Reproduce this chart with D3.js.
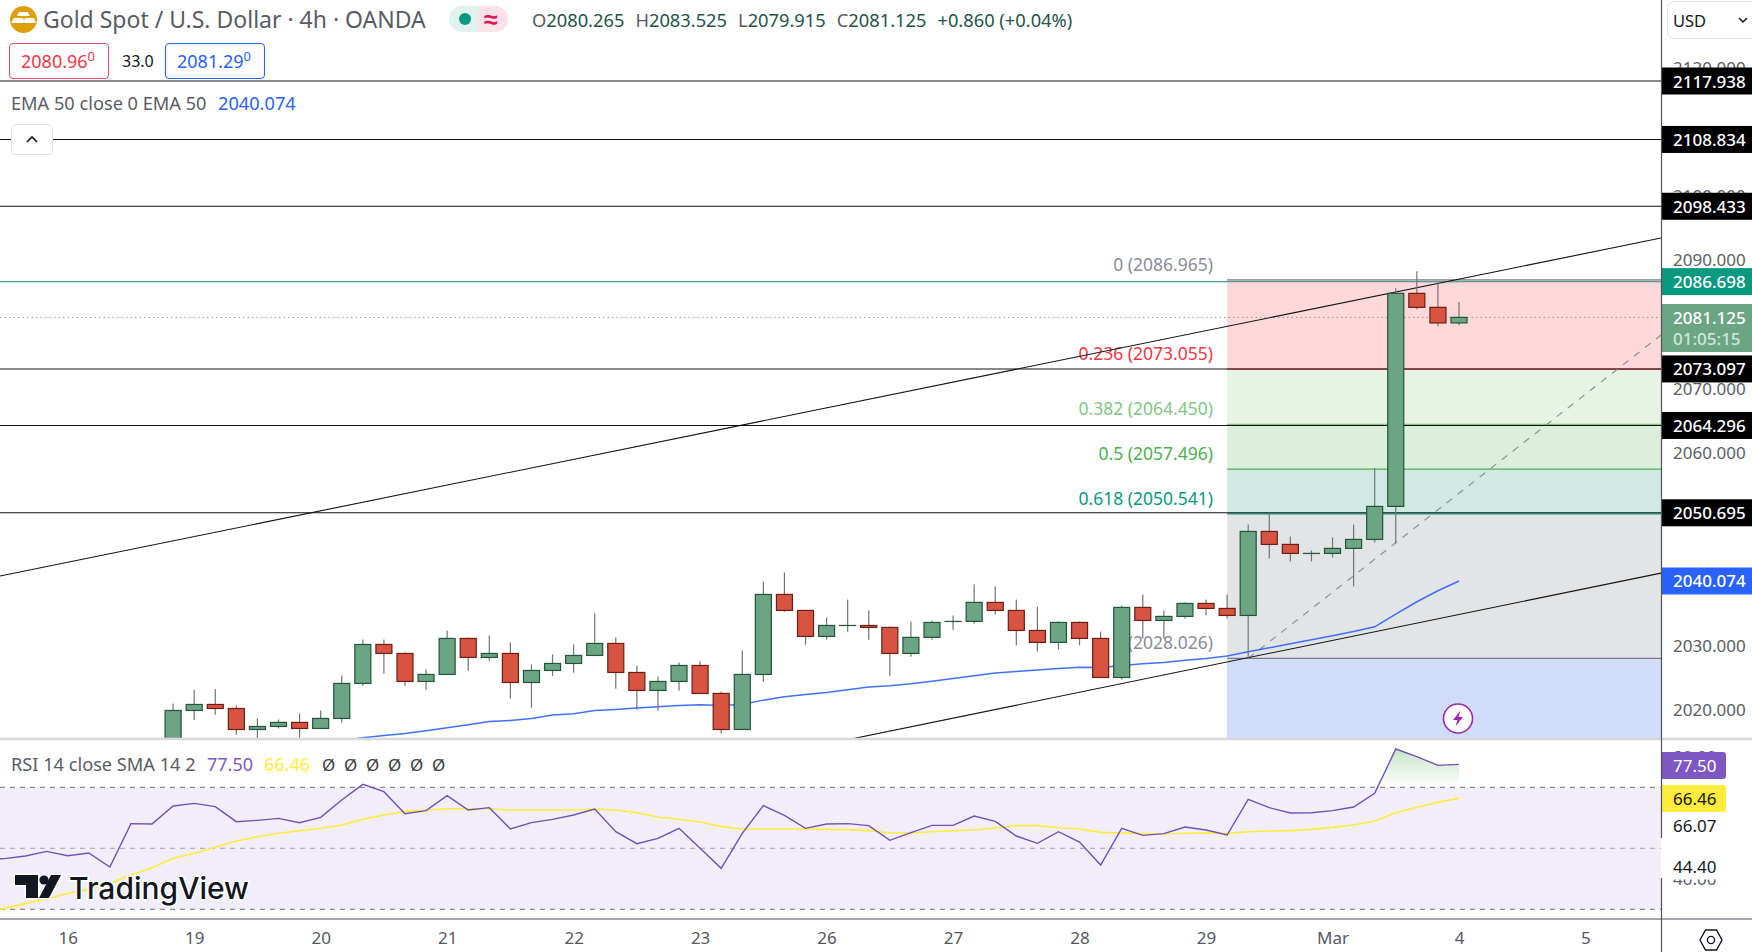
<!DOCTYPE html>
<html><head><meta charset="utf-8">
<script src="https://cdn.jsdelivr.net/npm/d3@7/dist/d3.min.js"></script>
<style>
html,body{margin:0;padding:0;background:#fff;overflow:hidden}
svg{display:block}
text{font-family:"Noto Sans",sans-serif}
</style></head><body>
<svg id="c" width="1752" height="952"></svg>
<script>
// ---------- data ----------
const opens=[2015,2019.91,2020.85,2020.22,2016.95,2017.42,2018.05,2017.11,2018.67,2024.12,2030.19,2028.79,2024.43,2025.52,2031.13,2028.17,2028.79,2024.27,2026.14,2027.23,2028.48,2030.35,2025.83,2023.03,2024.43,2026.92,2022.56,2016.95,2025.52,2037.98,2035.49,2031.44,2033.15,2033.15,2032.84,2028.79,2031.29,2033.78,2033.78,2036.74,2035.49,2032.37,2030.51,2033.62,2031.13,2025.05,2035.96,2033.93,2034.56,2036.58,2035.80,2034.71,2047.79,2045.77,2044.37,2044.37,2045.15,2046.55,2051.69,2084.87,2082.69,2080.265];
const highs=[2021.00,2023.08,2023.24,2020.69,2018.67,2018.51,2019.45,2019.91,2025.37,2030.97,2030.97,2028.95,2026.30,2032.37,2031.29,2031.60,2030.51,2027.08,2028.64,2030.19,2035.02,2031.29,2026.92,2025.21,2027.39,2027.54,2022.87,2029.26,2040.01,2041.41,2035.49,2034.40,2037.20,2035.49,2033.00,2033.78,2033.93,2034.71,2039.54,2039.23,2037.20,2036.11,2033.78,2033.78,2032.22,2036.27,2037.98,2035.49,2036.74,2037.20,2037.98,2048.88,2050.70,2047.01,2044.83,2046.86,2048.88,2057.66,2085.65,2088.30,2086.58,2083.525];
const lows=[2014.5,2018.46,2019.24,2016.12,2015.55,2017.11,2015.55,2017.11,2018.05,2023.76,2025.62,2023.76,2023.13,2025.52,2026.09,2027.65,2021.73,2020.33,2025.31,2025.78,2028.48,2023.29,2020.02,2019.86,2022.98,2022.56,2016.33,2016.95,2024.38,2035.28,2030.14,2030.92,2032.17,2030.92,2025.31,2028.27,2030.92,2032.48,2033.47,2034.87,2030.04,2029.10,2029.41,2030.04,2025.05,2024.74,2031.13,2031.13,2034.24,2034.71,2034.24,2028.03,2043.59,2043.12,2043.12,2043.74,2039.23,2046.08,2045.92,2082.38,2079.73,2079.915];
const closes=[2019.91,2020.85,2020.22,2016.95,2017.42,2018.05,2017.11,2018.67,2024.12,2030.19,2028.79,2024.43,2025.52,2031.13,2028.17,2028.79,2024.27,2026.14,2027.23,2028.48,2030.35,2025.83,2023.03,2024.43,2026.92,2022.56,2016.95,2025.52,2037.98,2035.49,2031.44,2033.15,2033.15,2032.84,2028.79,2031.29,2033.62,2033.78,2036.74,2035.49,2032.37,2030.51,2033.62,2031.13,2025.05,2035.96,2033.93,2034.56,2036.58,2035.80,2034.71,2047.79,2045.77,2044.37,2044.37,2045.15,2046.55,2051.69,2084.87,2082.69,2080.265,2081.125];

const emaStart=8;
const ema=[2015.24,2015.66,2016.02,2016.33,2016.75,2017.21,2017.68,2018.20,2018.36,2018.67,2019.19,2019.39,2019.91,2020.07,2020.28,2020.48,2020.69,2020.80,2020.69,2020.85,2021.52,2022.04,2022.41,2022.72,2023.13,2023.55,2023.76,2024.07,2024.48,2024.90,2025.31,2025.73,2025.99,2026.20,2026.46,2026.66,2026.61,2026.92,2027.18,2027.39,2027.75,2028.01,2028.38,2029.05,2029.67,2030.30,2030.92,2031.54,2032.22,2032.94,2034.92,2036.84,2038.55,2040.074];

const rsiStart=-9;
const rsi=[46.4,46.60,47.47,49.00,47.58,48.46,43.87,58.08,57.97,63.87,64.74,63.65,58.73,59.17,59.82,58.40,60.15,65.84,70.97,68.57,61.35,62.34,67.26,62.56,63.32,56.33,58.40,59.50,60.92,62.88,55.45,51.52,53.27,56.55,49.99,43.43,54.91,63.98,60.81,56.55,57.97,58.08,57.42,52.61,55.12,57.53,57.53,60.59,58.84,54.03,51.63,55.45,52.06,44.52,56.55,54.25,54.80,56.98,56.00,54.36,66.05,63.32,61.57,61.68,62.34,63.54,68.02,82.56,80.04,77.20,77.50];
const rsiSma=[28.67,30.31,31.95,33.37,35.23,36.54,38.51,41.24,43.65,46.71,48.35,50.32,52.39,53.81,54.91,55.78,56.55,57.64,59.50,60.92,62.12,62.56,62.99,62.99,62.99,62.56,62.56,62.56,62.56,62.88,62.56,61.68,60.26,59.50,58.62,57.20,56.33,56.33,56.33,56.33,56.22,56.11,55.78,55.02,55.02,55.45,55.78,56.00,56.66,57.42,57.42,56.76,56.33,55.23,55.02,54.80,54.69,54.91,55.02,54.91,55.45,55.67,55.78,56.22,56.87,57.64,58.95,61.68,63.43,65.07,66.46];

const hLevels=[2117.938,2108.834,2098.433,2073.097,2064.296,2050.695];
const tealLevel=2086.698;
const lastPrice=2081.125;
const emaLast=2040.074;

const fibPrices=[2086.965,2073.055,2064.450,2057.496,2050.541,2028.026,2010];
const fibFills=["#fdd8db","#e7f4e5","#dcefdc","#d0eae3","#e2e4e6","#cfddfb"];
const fibLineColors=["#787b86","#f23645","#81c784","#4caf50","#089981","#787b86"];
const fibNames=["0 (2086.965)","0.236 (2073.055)","0.382 (2064.450)","0.5 (2057.496)","0.618 (2050.541)","1 (2028.026)"];
const fibStartIndex=50;

const upperTrendIdx=[-8.21,70.58], upperTrendPrice=[2040.84,2093.48];
const lowerTrendIdx=[32.2,70.58], lowerTrendPrice=[2015.49,2041.30];
const fibDiagIdx=[51,70.58], fibDiagPrice=[2028.026,2078.37];

const priceTicks=[2020,2030,2040,2050,2060,2070,2080,2090,2100,2110,2120];
const rsiTicks=[80,60,40];
const rsiBands=[70,50,30];
const dayIdx=[-5,1,7,13,19,25,31,37,43,49,55,61,67];
const dayLabels=["16","19","20","21","22","23","26","27","28","29","Mar","4","5"];

// ---------- scales ----------
const W=1752,H=952,AX=1661,PB=738,RT=740,RB=919;
const x=d3.scaleLinear().domain([0,61]).range([173.1,1459]);
const y=d3.scaleLinear().domain([2020,2117.938]).range([709.9,81]);
const ry=d3.scaleLinear().domain([30,70]).range([909.3,787.3]);
const svg=d3.select("#c");
const defs=svg.append("defs");
defs.append("clipPath").attr("id","main").append("rect").attr("width",AX).attr("height",PB);
defs.append("clipPath").attr("id","over").append("rect").attr("width",AX).attr("y",RT).attr("height",ry(70)-RT);
const gr=defs.append("linearGradient").attr("id","ob").attr("gradientUnits","userSpaceOnUse")
  .attr("x1",0).attr("x2",0).attr("y1",ry(82.56)).attr("y2",ry(70));
gr.append("stop").attr("offset",0).attr("stop-color","#4caf50").attr("stop-opacity",.32);
gr.append("stop").attr("offset",1).attr("stop-color","#4caf50").attr("stop-opacity",0);

svg.append("rect").attr("width",W).attr("height",H).attr("fill","#fff");
const main=svg.append("g").attr("clip-path","url(#main)");

// Fib bands
const fx0=x(fibStartIndex);
main.selectAll("rect.fib").data(fibFills).join("rect").attr("class","fib")
  .attr("x",fx0).attr("width",AX-fx0).attr("y",(d,i)=>y(fibPrices[i])).attr("height",(d,i)=>y(fibPrices[i+1])-y(fibPrices[i]))
  .attr("fill",d=>d);
main.selectAll("line.fibl").data(fibLineColors).join("line").attr("class","fibl")
  .attr("x1",fx0).attr("x2",AX).attr("y1",(d,i)=>y(fibPrices[i])).attr("y2",(d,i)=>y(fibPrices[i]))
  .attr("stroke",d=>d).attr("stroke-width",1.2);
main.selectAll("text.fibt").data(fibNames).join("text").attr("class","fibt")
  .attr("x",1213).attr("y",(d,i)=>y(fibPrices[i])-16).attr("text-anchor","end").attr("dominant-baseline","central")
  .attr("font-size",17.5).attr("fill",(d,i)=>i==0||i==5?"#8a8d97":fibLineColors[i]).text(d=>d);

// Horizontal levels
main.selectAll("line.h").data(hLevels).join("line").attr("class","h")
  .attr("x1",0).attr("x2",AX).attr("y1",d=>y(d)).attr("y2",d=>y(d)).attr("stroke","#111").attr("stroke-width",1.1);
main.append("line").attr("x1",0).attr("x2",AX).attr("y1",y(tealLevel)).attr("y2",y(tealLevel)).attr("stroke","#4f9d94").attr("stroke-width",1.1);
main.append("line").attr("x1",0).attr("x2",AX).attr("y1",y(lastPrice)).attr("y2",y(lastPrice)).attr("stroke","#8a9a90").attr("stroke-width",1).attr("stroke-dasharray","1.5 3");

// Trend lines
const tl=(a,b)=>[[x(a[0]),y(b[0])],[x(a[1]),y(b[1])]];
const ln=d3.line();
main.append("path").attr("d",ln(tl(fibDiagIdx,fibDiagPrice))).attr("fill","none").attr("stroke","#8d9096").attr("stroke-width",1.2).attr("stroke-dasharray","7 7");
main.append("path").attr("d",ln(tl(upperTrendIdx,upperTrendPrice))).attr("fill","none").attr("stroke","#131313").attr("stroke-width",1.1);
main.append("path").attr("d",ln(tl(lowerTrendIdx,lowerTrendPrice))).attr("fill","none").attr("stroke","#131313").attr("stroke-width",1.1);

// EMA
main.append("path").datum(ema).attr("fill","none").attr("stroke","#2962ff").attr("stroke-width",1.5).attr("opacity",.9)
  .attr("d",d3.line().x((d,i)=>x(i+emaStart)).y(d=>y(d)));

// Candles
const idx=d3.range(opens.length);
main.selectAll("line.w").data(idx).join("line").attr("class","w")
  .attr("x1",i=>x(i)).attr("x2",i=>x(i)).attr("y1",i=>y(highs[i])).attr("y2",i=>y(lows[i]))
  .attr("stroke","#737375").attr("stroke-width",1.2);
main.selectAll("rect.b").data(idx).join("rect").attr("class","b")
  .attr("x",i=>x(i)-8).attr("width",16)
  .attr("y",i=>y(Math.max(opens[i],closes[i]))).attr("height",i=>Math.max(0.05,Math.abs(y(opens[i])-y(closes[i]))))
  .attr("fill",i=>closes[i]>=opens[i]?"#6ba583":"#d75442")
  .attr("stroke",i=>closes[i]>=opens[i]?"#225437":"#6b1e11").attr("stroke-width",1.2);

// Lightning icon
const bolt=svg.append("g").attr("transform",`translate(${x(61)-1},718.5)`);
bolt.append("circle").attr("r",14.5).attr("fill","#fff").attr("stroke","#9c27b0").attr("stroke-width",1.6);
bolt.append("path").attr("d","M2.5 -8 L-5 1.5 H-0.5 L-2.5 8 L5 -1.5 H0.5 Z").attr("fill","#9c27b0");

// RSI pane
svg.append("rect").attr("x",0).attr("width",AX).attr("y",ry(70)).attr("height",ry(30)-ry(70)).attr("fill","#f1eef9");
svg.selectAll("line.band").data(rsiBands).join("line").attr("class","band")
  .attr("x1",0).attr("x2",AX).attr("y1",d=>ry(d)).attr("y2",d=>ry(d))
  .attr("stroke",d=>d==50?"#a5a2ad":"#6f7079").attr("stroke-width",1).attr("stroke-dasharray","5 5");
const rIdx=d3.range(rsi.length);
svg.append("path").datum(rIdx.filter(i=>i+rsiStart>=57)).attr("clip-path","url(#over)")
  .attr("fill","url(#ob)")
  .attr("d",d3.area().x(i=>x(i+rsiStart)).y0(ry(70)).y1(i=>ry(rsi[i])));
svg.append("path").datum(rsiSma).attr("fill","none").attr("stroke","#ffeb3b").attr("stroke-width",1.6)
  .attr("d",d3.line().x((d,i)=>x(i+rsiStart)).y(d=>ry(d)));
svg.append("path").datum(rsi).attr("fill","none").attr("stroke","#7151b8").attr("stroke-width",1.4)
  .attr("d",d3.line().x((d,i)=>x(i+rsiStart)).y(d=>ry(d)));

// Axis panel
svg.append("rect").attr("x",AX).attr("width",W-AX).attr("height",H).attr("fill","#fff");
const yAxis=d3.axisRight(y).tickValues(priceTicks).tickSize(0).tickPadding(12).tickFormat(d3.format(".3f"));
const gy=svg.append("g").attr("transform",`translate(${AX},0)`).call(yAxis);
gy.select(".domain").remove();
gy.selectAll("text").attr("font-size",17).attr("fill","#5b5d66").style("font-family",'"Noto Sans"');
const rAxis=d3.axisRight(ry).tickValues(rsiTicks).tickSize(0).tickPadding(12).tickFormat(d3.format(".2f"));
const gr2=svg.append("g").attr("transform",`translate(${AX},0)`).call(rAxis);
gr2.select(".domain").remove();
gr2.selectAll("text").attr("font-size",17).attr("fill","#5b5d66").style("font-family",'"Noto Sans"');

// Price labels
function plabel(val,fill,col){
  const cy=y(val);
  svg.append("rect").attr("x",AX).attr("width",W-AX).attr("y",cy-13.5).attr("height",27).attr("fill",fill);
  svg.append("text").attr("x",1673).attr("y",cy).attr("dominant-baseline","central").attr("font-size",17).attr("font-weight",500).attr("fill",col).text(val.toFixed(3));
}
hLevels.forEach(v=>plabel(v,"#000","#fff"));
plabel(tealLevel,"#089981","#fff");
plabel(emaLast,"#2962ff","#fff");
svg.append("rect").attr("x",AX).attr("width",W-AX).attr("y",304).attr("height",48).attr("fill","#6ba583");
svg.append("text").attr("x",1673).attr("y",317).attr("dominant-baseline","central").attr("font-size",17).attr("font-weight",500).attr("fill","#fff").text(lastPrice.toFixed(3));
svg.append("text").attr("x",1673).attr("y",338).attr("dominant-baseline","central").attr("font-size",17).attr("font-weight",500).attr("fill","#d3e5da").text("01:05:15");

// RSI labels
function rlabel(cy,t,fill,col,w){
  svg.append("path").attr("d",`M${AX} ${cy-13.5}H${AX+w-3}a3 3 0 0 1 3 3V${cy+10.5}a3 3 0 0 1 -3 3H${AX}Z`).attr("fill",fill);
  svg.append("text").attr("x",1673).attr("y",cy).attr("dominant-baseline","central").attr("font-size",17).attr("fill",col).text(t);
}
rlabel(825,"66.07","#fff","#131722",65);
rlabel(866,"44.40","#fff","#131722",65);
rlabel(765.5,"77.50","#7e57c2","#fff",65);
rlabel(798.5,"66.46","#ffeb3b","#131722",65);

// Separators
svg.append("line").attr("x1",0).attr("x2",W).attr("y1",739).attr("y2",739).attr("stroke","#d6d8dc").attr("stroke-width",2.5);
svg.append("line").attr("x1",0).attr("x2",W).attr("y1",RB).attr("y2",RB).attr("stroke","#50535e").attr("stroke-width",1.2);
svg.append("path").attr("d",`M${AX+.5} 0V838M${AX+.5} 878V${H}`).attr("stroke","#50535e").attr("stroke-width",1.2);

// X axis
const xAxis=d3.axisBottom(x).tickValues(dayIdx).tickSize(0).tickPadding(13).tickFormat((d,i)=>dayLabels[i]);
const gx=svg.append("g").attr("transform",`translate(0,${RB})`).call(xAxis);
gx.select(".domain").remove();
gx.selectAll("text").attr("font-size",17).attr("fill","#55575f").style("font-family",'"Noto Sans"');

// Watermark
const wm=svg.append("g");
wm.append("path").attr("d","M15 875H38V898H26V885H15Z M51 875H61L49 898H39Z").attr("fill","#131722").attr("stroke","#fff").attr("stroke-width",3).attr("paint-order","stroke");
wm.append("circle").attr("cx",44).attr("cy",880).attr("r",4.6).attr("fill","#131722");
wm.append("text").attr("x",69).attr("y",899).attr("font-size",30).attr("font-weight",500).attr("fill","#131722")
  .attr("stroke","#fff").attr("stroke-width",3).attr("paint-order","stroke").style("font-family","Inter").text("TradingView");

// Header
const T=(x0,y0,t,size,col,extra)=>{const e=svg.append("text").attr("x",x0).attr("y",y0).attr("dominant-baseline","central").attr("font-size",size).attr("fill",col).text(t);if(extra)extra(e);return e;};
svg.append("circle").attr("cx",23.5).attr("cy",19.5).attr("r",13.5).attr("fill","#dd9f0c");
svg.append("path").attr("d","M19 12h9l2 4h-13z M14 18h9l2 5H11z M25 18h9l2 5H23z").attr("fill","#fff");
T(43,19,"Gold Spot / U.S. Dollar · 4h · OANDA",23,"#5a5c63");
svg.append("path").attr("d","M478 6H462a13 13 0 0 0 0 26H478Z").attr("fill","#e0f2ee");
svg.append("path").attr("d","M478 6H495a13 13 0 0 1 0 26H478Z").attr("fill","#fbe1e8");
svg.append("circle").attr("cx",465).attr("cy",19).attr("r",6).attr("fill","#089981");
T(484,18,"≈",25,"#d81b60").attr("font-weight",600);

const ohlc=[["O","2080.265"],["H","2083.525"],["L","2079.915"],["C","2081.125"]];
const oh=svg.append("text").attr("x",532).attr("y",19).attr("dominant-baseline","central").attr("font-size",18.3);
ohlc.forEach(([a,b],i)=>{oh.append("tspan").attr("fill","#5a5c63").attr("dx",i?11:0).text(a);oh.append("tspan").attr("fill","#22544a").text(b);});
oh.append("tspan").attr("fill","#22544a").attr("dx",11).text("+0.860 (+0.04%)");

svg.append("rect").attr("x",9.5).attr("y",43.5).attr("width",99).attr("height",35).attr("rx",4).attr("fill","#fff").attr("stroke","#e8505f").attr("stroke-width",1.1);
const bid=T(21,61,"2080.96",18,"#f23645");bid.append("tspan").attr("font-size",13).attr("dy",-5).text("0");
T(122,61,"33.0",16,"#131722");
svg.append("rect").attr("x",165.5).attr("y",43.5).attr("width",99).attr("height",35).attr("rx",4).attr("fill","#fff").attr("stroke","#2962ff").attr("stroke-width",1.1);
const ask=T(177,61,"2081.29",18,"#2962ff");ask.append("tspan").attr("font-size",13).attr("dy",-5).text("0");

T(11,103,"EMA 50 close 0 EMA 50",18.2,"#5a5c63");
T(218,103,"2040.074",18.2,"#2962ff");
svg.append("rect").attr("x",11.5).attr("y",124.5).attr("width",41).attr("height",30).attr("rx",3).attr("fill","#fff").attr("stroke","#e0e3eb");
svg.append("path").attr("d","M27 142l5-5 5 5").attr("fill","none").attr("stroke","#131722").attr("stroke-width",1.6);

// RSI legend
T(11,764,"RSI 14 close SMA 14 2",18.2,"#5a5c63");
T(207,764,"77.50",18,"#7e57c2");
T(264,764,"66.46",18,"#ffeb3b");
const nulls=["Ø","Ø","Ø","Ø","Ø","Ø"];
svg.selectAll("text.nul").data(nulls).join("text").attr("class","nul")
  .attr("x",(d,i)=>322+i*22).attr("y",764).attr("dominant-baseline","central").attr("font-size",17).attr("fill","#3a3c44").text(d=>d);

// USD selector
svg.append("rect").attr("x",1667.5).attr("y",1.5).attr("width",100).attr("height",37).attr("rx",6).attr("fill","#fff").attr("stroke","#e0e3eb");
T(1673,20,"USD",16.5,"#131722");
svg.append("path").attr("d","M1739 18l4 4 4-4").attr("fill","none").attr("stroke","#131722").attr("stroke-width",1.5);

// Settings hex
svg.append("path").attr("d","M1700 940l5.5-10h11l5.5 10-5.5 10h-11z").attr("fill","none").attr("stroke","#131722").attr("stroke-width",1.4);
svg.append("circle").attr("cx",1711).attr("cy",940).attr("r",3.6).attr("fill","none").attr("stroke","#131722").attr("stroke-width",1.4);
</script>
</body></html>
